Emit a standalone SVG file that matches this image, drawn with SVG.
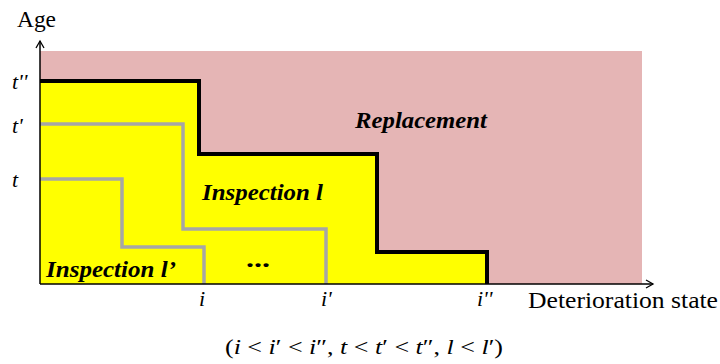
<svg xmlns="http://www.w3.org/2000/svg" width="720" height="364" viewBox="0 0 720 364">
<style>
text{font-family:"Liberation Serif","Times New Roman",Times,"DejaVu Serif","Noto Serif",serif;fill:#000}
.it{font-style:italic}
.lbl{font-style:italic;font-weight:bold;font-size:23px}
.gray{fill:none;stroke:#a6a6a6;stroke-width:3.5}
</style>
<defs>
<marker id="arr" markerWidth="10" markerHeight="10" refX="8" refY="5" orient="auto" markerUnits="userSpaceOnUse">
<path d="M1,1 L8,5 L1,9" fill="none" stroke="#000" stroke-width="1.3"/>
</marker>
</defs>
<rect width="720" height="364" fill="#fff"/>
<g id="replacement-region">
<rect x="40" y="51" width="602" height="233" fill="#e5b5b5"/>
</g>
<g id="inspection-region">
<path d="M40,81 H199 V154 H377 V252 H487 V284 H40 Z" fill="#ffff00"/>
</g>
<g id="connectors">
<path class="gray" d="M40,179 H122 V247 H204 V284"/>
<path class="gray" d="M40,124 H183 V229 H326 V284"/>
<path d="M40,81 H199 V154 H377 V252 H487 V284" fill="none" stroke="#000" stroke-width="4"/>
<line x1="40" y1="284" x2="40" y2="41" stroke="#000" stroke-width="1.5" marker-end="url(#arr)"/>
<line x1="40" y1="284" x2="653" y2="284" stroke="#000" stroke-width="1.5" marker-end="url(#arr)"/>
</g>
<g id="labels">
<text x="17" y="27" font-size="23" textLength="39" lengthAdjust="spacingAndGlyphs">Age</text>
<text class="it" x="12" y="89" font-size="22">t''</text>
<text class="it" x="12" y="133" font-size="22">t'</text>
<text class="it" x="12" y="187" font-size="22">t</text>
<text class="lbl" x="355" y="128" textLength="132" lengthAdjust="spacingAndGlyphs">Replacement</text>
<text class="lbl" x="202" y="200" textLength="121" lengthAdjust="spacingAndGlyphs">Inspection l</text>
<text class="lbl" x="46" y="277" textLength="130" lengthAdjust="spacingAndGlyphs">Inspection l’</text>
<text x="246" y="267" font-size="24" font-weight="bold" textLength="24" lengthAdjust="spacingAndGlyphs">...</text>
<text class="it" x="199" y="306" font-size="22">i</text>
<text class="it" x="321" y="306" font-size="22">i'</text>
<text class="it" x="477" y="306" font-size="22">i''</text>
<text x="528" y="308" font-size="23" textLength="190" lengthAdjust="spacingAndGlyphs">Deterioration state</text>
<text x="225" y="354" font-size="21" textLength="278" lengthAdjust="spacingAndGlyphs">(<tspan class="it">i</tspan> &lt; <tspan class="it">i</tspan>′ &lt; <tspan class="it">i</tspan>″, <tspan class="it">t</tspan> &lt; <tspan class="it">t</tspan>′ &lt; <tspan class="it">t</tspan>″, <tspan class="it">l</tspan> &lt; <tspan class="it">l</tspan>′)</text>
</g>
</svg>
